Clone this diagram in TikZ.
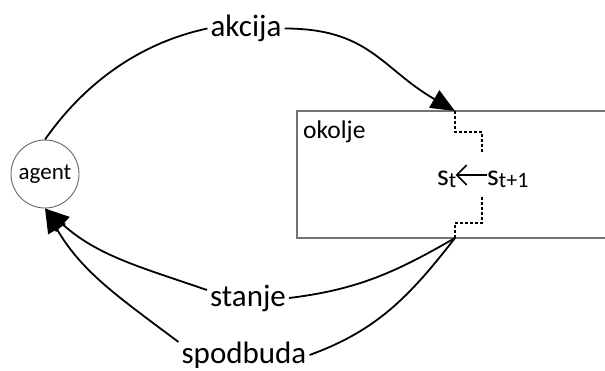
\documentclass[tikz,border=0pt]{standalone}
\usepackage{fontspec}
\setmainfont{Carlito}
\usetikzlibrary{arrows.meta}
\begin{document}
\begin{tikzpicture}[x=1pt,y=1pt,
  conn/.style={line width=1.8pt, draw=black},
  arr/.style={conn, -{Triangle[length=24pt,width=20pt]}},
  lbl/.style={font=\fontsize{31}{36}\selectfont, inner sep=3pt},
  dots/.style={line width=2pt, dash pattern=on 3pt off 2pt},
  envbox/.style={draw=black!55, line width=1.2pt},
  sym/.style={font=\fontsize{30}{34}\selectfont, inner sep=0pt, anchor=base west},
  sarrow/.style={line width=1.6pt, -{Straight Barb[length=10pt,width=20pt,line width=1.6pt]}}
]
\clip (0,0) rectangle (605,-370);
\fill[white] (0,0) rectangle (605,-370);
% environment box (continues past the right edge)
\draw[envbox] (297,-111) rectangle (640,-238);
\node[anchor=base west, font=\fontsize{25.5}{30}\selectfont, inner sep=0pt] (okolje) at (303,-138) {okolje};
% agent
\node[circle, draw=black!60, line width=0.9pt, minimum size=68pt, inner sep=0pt,
      font=\fontsize{23}{28}\selectfont] (agent) at (45,-174) {agent};
% points on the environment border
\coordinate (envT) at (455,-111);
\coordinate (envB) at (455,-238);
% labels
\node[lbl] (akcija) at (246,-28.5) {akcija};
\node[lbl] (stanje) at (248,-298) {stanje};
\node[lbl] (spodbuda) at (244,-355) {spodbuda};
% state update
\node[sym] (st) at (437,-185) {s{\fontsize{22}{22}\selectfont\raisebox{-2.5pt}{t}}};
\node[sym] (stp) at (487,-185) {s{\fontsize{22}{22}\selectfont\raisebox{-2.5pt}{t+1}}};
\draw[sarrow] (stp.west |- 0,-175) -- ([xshift=-1pt]st.east |- 0,-175);
\coordinate (dA) at (482,-153);
\coordinate (dB) at (482,-197);
\draw[dots] (envT) -- (455,-132) -| (dA);
\draw[dots] (dB) |- (455,-223) -- (envB);
% action
\draw[conn] (agent.north) to[out=55,in=192,looseness=0.9] (akcija.west);
\draw[arr] (akcija.east) to[out=0,in=150,looseness=1.15] (envT);
% state
\draw[conn] (envB) to[out=210,in=7] (stanje.east);
\draw[arr] ([yshift=8pt]stanje.west) to[out=161,in=318] (agent.south);
% reward
\draw[conn] (envB) to[out=232,in=20] (spodbuda.east);
\draw[arr] ([yshift=13pt]spodbuda.west) to[out=143,in=300] (agent.south);
\end{tikzpicture}
\end{document}
